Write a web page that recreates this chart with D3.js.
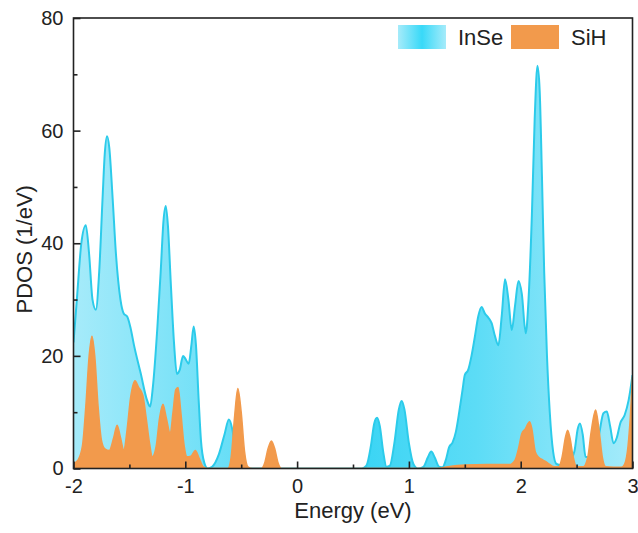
<!DOCTYPE html>
<html>
<head>
<meta charset="utf-8">
<script src="https://cdn.jsdelivr.net/npm/d3@7"></script>
<style>
  html, body { margin: 0; padding: 0; background: #fff; }
  svg { display: block; font-family: "Liberation Sans", Arial, sans-serif; }
</style>
</head>
<body>
<svg id="chart" width="638" height="533"></svg>
<script>
// ---- data ----
const energyInSe = [-2.00,-1.97,-1.93,-1.89,-1.86,-1.83,-1.80,-1.77,-1.74,-1.72,-1.70,-1.68,-1.65,-1.62,-1.58,-1.55,-1.52,-1.49,-1.46,-1.40,-1.34,-1.315,-1.29,-1.25,-1.22,-1.195,-1.175,-1.155,-1.13,-1.10,-1.075,-1.05,-1.02,-1.00,-0.97,-0.945,-0.925,-0.905,-0.88,-0.86,-0.83,-0.80,-0.76,-0.70,-0.65,-0.61,-0.58,-0.55,-0.52,-0.48,0.58,0.62,0.66,0.69,0.715,0.74,0.77,0.80,0.83,0.87,0.91,0.935,0.96,1.00,1.04,1.08,1.13,1.17,1.20,1.23,1.27,1.30,1.33,1.36,1.39,1.42,1.45,1.48,1.50,1.53,1.56,1.59,1.62,1.65,1.68,1.71,1.74,1.77,1.80,1.83,1.86,1.89,1.92,1.95,1.98,2.01,2.045,2.07,2.10,2.125,2.15,2.17,2.19,2.21,2.235,2.26,2.29,2.32,2.36,2.40,2.44,2.48,2.51,2.53,2.555,2.58,2.62,2.66,2.70,2.74,2.77,2.80,2.83,2.86,2.89,2.93,2.965,3.00];
const dosInSe    = [22.4,30,40,43.2,38,30,28.2,35,48,56,59.0,57,48,38,30,27.5,27,25,22,17,12,11,14.5,25,35,44,46.6,43,33,22,16.8,17.5,20,19.5,18.6,22,25.2,22,12,5,1,0,0.3,2.5,6,8.7,7,3,0.5,0,0,0.5,4,8,9,7.5,3,0.3,0.5,4.5,10.5,12,10.5,4.5,0.8,0,0.3,2,3,2,0.3,0.2,1.5,3.8,4.6,6.5,10,14,16.6,17.5,20,23.4,27,28.7,27.5,26.8,25.8,23.5,21.9,27,33.6,30,24.6,29,33.3,31,24,30,45,62,71.5,67,52,35,20,10,3,0.8,0.6,1.2,1.5,3,7,8,6,2.1,2,3,6,9.8,10.1,7.5,4.5,5.5,8,9.5,12.1,16.6];

const energySiH = [-2.00,-1.96,-1.92,-1.89,-1.86,-1.835,-1.81,-1.78,-1.75,-1.72,-1.68,-1.64,-1.61,-1.58,-1.55,-1.52,-1.49,-1.45,-1.42,-1.38,-1.35,-1.32,-1.295,-1.26,-1.23,-1.20,-1.17,-1.135,-1.11,-1.085,-1.065,-1.04,-1.01,-0.985,-0.95,-0.91,-0.88,-0.84,-0.80,-0.62,-0.59,-0.56,-0.53,-0.50,-0.47,-0.44,-0.40,-0.32,-0.29,-0.26,-0.23,-0.20,-0.17,-0.14,1.25,1.35,1.50,1.70,1.90,1.95,1.98,2.01,2.04,2.08,2.10,2.13,2.16,2.20,2.24,2.30,2.34,2.37,2.40,2.42,2.44,2.47,2.50,2.56,2.60,2.63,2.67,2.70,2.73,2.76,2.90,2.93,2.96,2.98,3.00];
const dosSiH    = [0.9,1.5,4,11,20,23.5,20,11,5,3.5,3.2,5.5,7.7,5.5,3.3,7,12.5,15.6,14.5,13,9,4.5,2.1,4,9,11.4,9,6.2,10,14,14.4,10,4,2.1,2.2,3.2,2,0.3,0,0,2,9,14.2,10,3,0.3,0,0,1,3.5,4.9,3.5,1,0,0,0.3,0.6,0.7,0.7,1.5,3.5,6.2,7,8.3,7,3,2,1.5,1,0.3,0.3,2,5.5,6.8,5.5,2,0.3,0.3,2,6.5,10.4,7,2,0.3,0.2,0.8,4,9,16.3];

const seriesNames = ["InSe", "SiH"];
const xTickValues = [-2, -1, 0, 1, 2, 3];
const xMinorTicks = [-1.5, -0.5, 0.5, 1.5, 2.5];
const yTickValues = [0, 20, 40, 60, 80];
const yMinorTicks = [10, 30, 50, 70];

// ---- layout ----
const svg = d3.select("#chart");
const mLeft = 73.5, mRight = 632.5, mTop = 18, mBottom = 468.5;
const x = d3.scaleLinear().domain([-2, 3]).range([mLeft, mRight]);
const y = d3.scaleLinear().domain([0, 80]).range([mBottom, mTop]);

const cyanStroke = "#2ccbea";
const orange = "#f29a4c";

const defs = svg.append("defs");
const grad = defs.append("linearGradient").attr("id", "inseGrad")
  .attr("x1", "0%").attr("x2", "100%").attr("y1", "0%").attr("y2", "0%");
[[0, "#a6ebfa"], [0.5, "#38d4f4"], [0.72, "#5cdcf6"], [1, "#a6ebfa"]].forEach(([o, c]) =>
  grad.append("stop").attr("offset", o).attr("stop-color", c));
const sgrad = defs.append("linearGradient").attr("id", "swatchGrad")
  .attr("x1", "0%").attr("x2", "100%");
[[0, "#a6ebfa"], [0.5, "#38d9f8"], [1, "#a6ebfa"]].forEach(([o, c]) =>
  sgrad.append("stop").attr("offset", o).attr("stop-color", c));
defs.append("clipPath").attr("id", "plotClip").append("rect")
  .attr("x", mLeft).attr("y", mTop).attr("width", mRight - mLeft).attr("height", mBottom - mTop);

const inse = energyInSe.map((e, i) => [e, dosInSe[i]]);
const sih = energySiH.map((e, i) => [e, dosSiH[i]]);

const area = d3.area().x(d => x(d[0])).y0(y(0)).y1(d => y(d[1])).curve(d3.curveMonotoneX);
const line = d3.line().x(d => x(d[0])).y(d => y(d[1])).curve(d3.curveMonotoneX);

const plot = svg.append("g").attr("clip-path", "url(#plotClip)");
plot.append("path").datum(inse).attr("d", area).attr("fill", "url(#inseGrad)");
plot.append("path").datum(inse).attr("d", line).attr("fill", "none")
  .attr("stroke", cyanStroke).attr("stroke-width", 2);
plot.append("path").datum(sih).attr("d", area).attr("fill", orange);
plot.append("path").datum(sih).attr("d", line).attr("fill", "none")
  .attr("stroke", orange).attr("stroke-width", 1.5);

// ---- frame and axes ----
svg.append("rect").attr("x", mLeft).attr("y", mTop)
  .attr("width", mRight - mLeft).attr("height", mBottom - mTop)
  .attr("fill", "none").attr("stroke", "#222").attr("stroke-width", 1.6);

const fmt = d => String(d);

const xAxis = svg.append("g").attr("transform", `translate(0,${mBottom})`)
  .call(d3.axisBottom(x).tickValues(xTickValues).tickSizeInner(-7).tickSizeOuter(0).tickPadding(10)
    .tickFormat(fmt));
xAxis.select(".domain").remove();
xAxis.selectAll("line").attr("stroke", "#222").attr("stroke-width", 1.6);
xAxis.selectAll("text").attr("font-size", 20).attr("fill", "#222");
svg.append("g").attr("transform", `translate(0,${mBottom})`)
  .call(d3.axisBottom(x).tickValues(xMinorTicks).tickSizeInner(-4).tickSizeOuter(0).tickFormat(""))
  .call(g => g.select(".domain").remove())
  .selectAll("line").attr("stroke", "#222").attr("stroke-width", 1.6);

const yAxis = svg.append("g").attr("transform", `translate(${mLeft},0)`)
  .call(d3.axisLeft(y).tickValues(yTickValues).tickSizeInner(-7).tickSizeOuter(0).tickPadding(10)
    .tickFormat(fmt));
yAxis.select(".domain").remove();
yAxis.selectAll("line").attr("stroke", "#222").attr("stroke-width", 1.6);
yAxis.selectAll("text").attr("font-size", 20).attr("fill", "#222");
svg.append("g").attr("transform", `translate(${mLeft},0)`)
  .call(d3.axisLeft(y).tickValues(yMinorTicks).tickSizeInner(-4).tickSizeOuter(0).tickFormat(""))
  .call(g => g.select(".domain").remove())
  .selectAll("line").attr("stroke", "#222").attr("stroke-width", 1.6);

// axis titles
svg.append("text").attr("x", (mLeft + mRight) / 2).attr("y", 518)
  .attr("text-anchor", "middle").attr("font-size", 22).attr("fill", "#222")
  .text("Energy (eV)");
svg.append("text").attr("transform", `translate(32,${(mTop + mBottom) / 2 + 6}) rotate(-90)`)
  .attr("text-anchor", "middle").attr("font-size", 22).attr("fill", "#222")
  .text("PDOS (1/eV)");

// legend
const legend = svg.append("g");
const legendFills = ["url(#swatchGrad)", orange];
const legendX = [398, 511];
seriesNames.forEach((name, i) => {
  legend.append("rect").attr("x", legendX[i]).attr("y", 25).attr("width", 48).attr("height", 24)
    .attr("fill", legendFills[i]);
  legend.append("text").attr("x", legendX[i] + 60).attr("y", 45)
    .attr("font-size", 22).attr("fill", "#222").text(name);
});
</script>
</body>
</html>
